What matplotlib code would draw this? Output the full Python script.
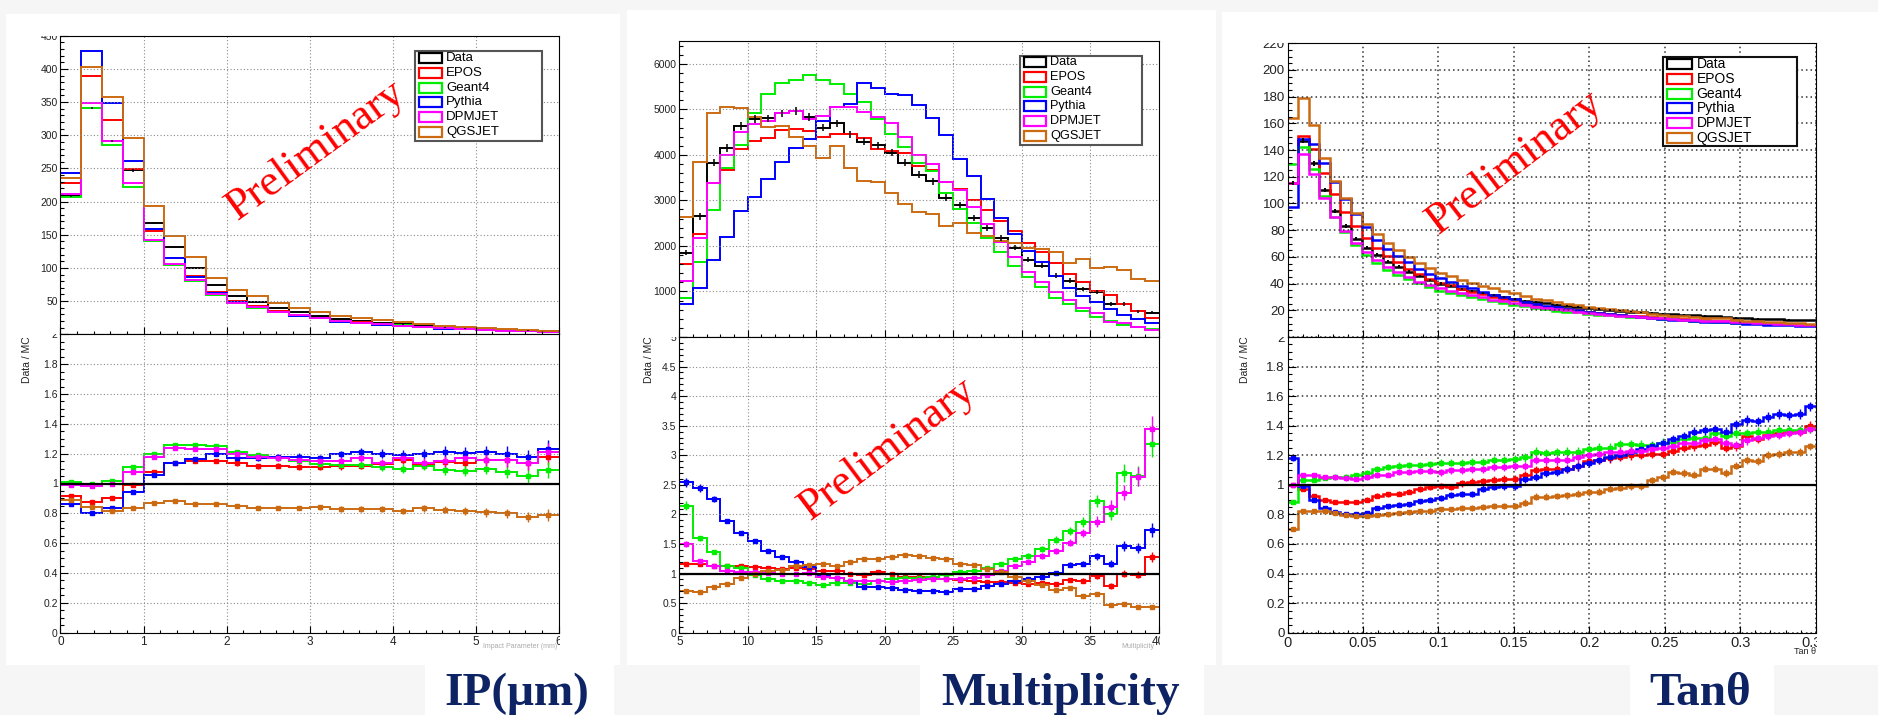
import numpy as np
import matplotlib.pyplot as plt
from matplotlib.patches import Rectangle
from matplotlib.ticker import MultipleLocator, FuncFormatter
from matplotlib.transforms import Affine2D, Bbox, TransformedBbox

plt.rcParams['font.family'] = ['Liberation Sans', 'DejaVu Sans']

W, H = 1878, 715

names = ['Data', 'EPOS', 'Geant4', 'Pythia', 'DPMJET', 'QGSJET']
colors = ['black', '#ff0000', '#00ee00', '#0000ff', '#ff00ff', '#cc6a12']

# impact parameter: 24 bins from 0 to 6
ip_edges = np.linspace(0, 6, 25)
ip_data = [209, 341, 291, 247, 168, 131, 100.5, 74, 57, 48, 39, 33, 28, 23, 20,
           17.5, 15, 13, 10.5, 9, 8, 6.5, 5.5, 4.5]
ip_err = [1.5, 2, 1.8, 1.7, 1.4, 1.2, 1.1, 0.9, 0.8, 0.7, 0.65, 0.6, 0.55, 0.5,
          0.45, 0.42, 0.4, 0.36, 0.33, 0.3, 0.28, 0.26, 0.24, 0.22]
ip_epos = [0.915, 0.875, 0.90, 0.99, 1.08, 1.14, 1.15, 1.15, 1.135, 1.115, 1.12, 1.11,
           1.11, 1.115, 1.12, 1.13, 1.16, 1.125, 1.145, 1.14, 1.16, 1.16, 1.14, 1.18]
ip_geant4 = [1.01, 1.00, 1.02, 1.11, 1.20, 1.26, 1.255, 1.25, 1.21, 1.19, 1.17, 1.15,
             1.13, 1.125, 1.125, 1.11, 1.10, 1.12, 1.09, 1.085, 1.10, 1.08, 1.05, 1.09]
ip_pythia = [0.86, 0.80, 0.835, 0.945, 1.06, 1.14, 1.165, 1.20, 1.17, 1.17, 1.18, 1.18,
             1.17, 1.195, 1.21, 1.20, 1.19, 1.20, 1.21, 1.205, 1.21, 1.20, 1.175, 1.23]
ip_dpmjet = [0.99, 0.98, 1.00, 1.08, 1.18, 1.235, 1.23, 1.23, 1.20, 1.18, 1.17, 1.16,
             1.15, 1.15, 1.17, 1.14, 1.17, 1.14, 1.15, 1.17, 1.16, 1.16, 1.14, 1.21]
ip_qgsjet = [0.89, 0.845, 0.815, 0.835, 0.87, 0.88, 0.86, 0.865, 0.85, 0.835, 0.835, 0.835,
             0.84, 0.83, 0.83, 0.83, 0.815, 0.833, 0.825, 0.815, 0.807, 0.80, 0.775, 0.79]

# multiplicity: 35 bins from 5 to 40
mu_edges = np.linspace(5, 40, 36)
mu_data = [1850, 2650, 3830, 4150, 4630, 4780, 4800, 4910, 4970, 4830, 4600, 4690,
           4450, 4290, 4210, 4050, 3830, 3560, 3420, 3060, 2900, 2620, 2400, 2170,
           1960, 1700, 1570, 1350, 1240, 1060, 980, 720, 720, 560, 530]
mu_err = [60, 70, 80, 80, 85, 85, 85, 85, 85, 85, 85, 85, 80, 80, 80, 80, 80, 75,
          75, 70, 70, 65, 65, 60, 60, 55, 55, 50, 50, 45, 45, 40, 40, 35, 35]
mu_epos = [1.16, 1.17, 1.13, 1.13, 1.12, 1.11, 1.10, 1.08, 1.09, 1.07, 1.05, 1.05,
           1.00, 0.98, 1.02, 0.99, 0.95, 0.95, 0.93, 0.90, 0.89, 0.87, 0.86, 0.85,
           0.84, 0.82, 0.84, 0.83, 0.89, 0.88, 0.96, 0.79, 1.00, 0.98, 1.28]
mu_geant4 = [2.15, 1.60, 1.37, 1.12, 1.10, 0.97, 0.90, 0.88, 0.88, 0.84, 0.815, 0.845,
             0.835, 0.83, 0.88, 0.91, 0.92, 0.93, 0.94, 0.97, 1.03, 1.05, 1.10, 1.16,
             1.25, 1.30, 1.42, 1.57, 1.72, 1.87, 2.22, 2.01, 2.70, 2.65, 3.19]
mu_pythia = [2.54, 2.45, 2.26, 1.89, 1.68, 1.55, 1.38, 1.28, 1.20, 1.11, 0.97, 0.93,
             0.87, 0.77, 0.77, 0.76, 0.72, 0.70, 0.71, 0.69, 0.74, 0.74, 0.79, 0.83,
             0.87, 0.90, 0.95, 1.01, 1.15, 1.17, 1.29, 1.17, 1.47, 1.43, 1.74]
mu_dpmjet = [1.50, 1.22, 1.13, 1.04, 1.03, 1.02, 1.01, 1.00, 1.00, 1.01, 0.95, 0.93,
             0.88, 0.87, 0.87, 0.86, 0.87, 0.89, 0.90, 0.90, 0.90, 0.92, 0.97, 1.04,
             1.12, 1.20, 1.30, 1.38, 1.52, 1.69, 1.88, 2.12, 2.37, 2.64, 3.44]
mu_qgsjet = [0.70, 0.69, 0.78, 0.82, 0.92, 0.99, 1.04, 1.06, 1.13, 1.15, 1.17, 1.12,
             1.20, 1.25, 1.24, 1.28, 1.31, 1.30, 1.27, 1.25, 1.16, 1.15, 1.08, 1.03,
             0.95, 0.87, 0.81, 0.72, 0.76, 0.62, 0.65, 0.47, 0.49, 0.44, 0.43]

# tan(theta): 50 bins from 0 to 0.35
tn_edges = np.linspace(0, 0.35, 51)
tn_data = [115, 147, 130, 110, 94.5, 83, 73.5, 66.7, 61.5, 56.5, 52.8, 49, 45.5, 42.5,
           40, 38, 36.2, 34.4, 32.7, 31.2, 29.8, 28.5, 27.3, 26.2, 25.2, 24.2, 23.3,
           22.5, 21.7, 21, 20.3, 19.7, 19.1, 18.6, 18.1, 17.6, 17.1, 16.6, 16.2, 15.8,
           15.4, 15, 14.6, 14.2, 13.8, 13.5, 13.2, 12.9, 12.6, 12.4]
tn_err = [1.5, 1.7, 1.6, 1.5, 1.4, 1.3, 1.2, 1.15, 1.1, 1.05, 1.0, 0.95, 0.9, 0.88,
          0.85, 0.82, 0.8, 0.78, 0.75, 0.72, 0.7, 0.68, 0.66, 0.64, 0.62, 0.6, 0.58,
          0.56, 0.54, 0.52, 0.5, 0.48, 0.46, 0.44, 0.42, 0.4, 0.39, 0.38, 0.37, 0.36,
          0.35, 0.34, 0.33, 0.32, 0.31, 0.3, 0.29, 0.28, 0.27, 0.26]
tn_epos = [1.00, 0.975, 0.925, 0.895, 0.885, 0.885, 0.885, 0.90, 0.925, 0.935, 0.94,
           0.955, 0.97, 0.985, 0.99, 0.985, 1.01, 1.02, 1.025, 1.035, 1.04, 1.04, 1.07,
           1.10, 1.105, 1.105, 1.11, 1.125, 1.16, 1.17, 1.18, 1.19, 1.20, 1.20, 1.21,
           1.21, 1.23, 1.25, 1.26, 1.27, 1.29, 1.25, 1.26, 1.33, 1.31, 1.34, 1.35,
           1.36, 1.36, 1.40]
tn_geant4 = [0.885, 1.035, 1.035, 1.045, 1.055, 1.055, 1.065, 1.08, 1.11, 1.12, 1.13,
             1.135, 1.135, 1.14, 1.15, 1.15, 1.15, 1.155, 1.155, 1.17, 1.17, 1.175,
             1.185, 1.225, 1.215, 1.22, 1.225, 1.225, 1.24, 1.25, 1.25, 1.275, 1.275,
             1.27, 1.27, 1.285, 1.29, 1.31, 1.32, 1.315, 1.35, 1.33, 1.35, 1.35, 1.36,
             1.36, 1.37, 1.37, 1.37, 1.38]
tn_pythia = [1.18, 0.99, 0.90, 0.845, 0.815, 0.805, 0.80, 0.81, 0.845, 0.855, 0.865,
             0.87, 0.89, 0.90, 0.91, 0.93, 0.94, 0.94, 0.975, 0.985, 0.99, 0.99, 1.04,
             1.055, 1.08, 1.09, 1.105, 1.125, 1.15, 1.17, 1.185, 1.20, 1.225, 1.24,
             1.26, 1.28, 1.31, 1.33, 1.36, 1.37, 1.375, 1.36, 1.41, 1.44, 1.43, 1.46,
             1.48, 1.47, 1.48, 1.53]
tn_dpmjet = [1.00, 1.07, 1.065, 1.055, 1.05, 1.045, 1.04, 1.05, 1.065, 1.07, 1.085,
             1.085, 1.095, 1.095, 1.085, 1.10, 1.10, 1.105, 1.105, 1.12, 1.12, 1.13,
             1.13, 1.17, 1.165, 1.165, 1.17, 1.185, 1.20, 1.21, 1.22, 1.225, 1.23, 1.23,
             1.24, 1.25, 1.26, 1.28, 1.28, 1.30, 1.31, 1.28, 1.27, 1.30, 1.32, 1.33,
             1.34, 1.35, 1.36, 1.38]
tn_qgsjet = [0.70, 0.82, 0.82, 0.82, 0.81, 0.795, 0.79, 0.79, 0.795, 0.80, 0.81, 0.815,
             0.82, 0.825, 0.835, 0.835, 0.845, 0.845, 0.85, 0.855, 0.86, 0.855, 0.88,
             0.92, 0.92, 0.925, 0.93, 0.94, 0.95, 0.955, 0.975, 0.98, 0.99, 0.99, 1.03,
             1.05, 1.09, 1.08, 1.07, 1.11, 1.11, 1.08, 1.13, 1.17, 1.16, 1.20, 1.21,
             1.22, 1.22, 1.26]

fig = plt.figure(figsize=(W / 100, H / 100), dpi=100, facecolor='#f6f6f7')
# pixel coordinates measured from the top-left corner
px = Affine2D().scale(1 / W, -1 / H).translate(0, 1) + fig.transFigure


def add_ax(x0, y0, x1, y1):
    return fig.add_axes([x0 / W, 1 - y1 / H, (x1 - x0) / W, (y1 - y0) / H])


def clip_box(x0, y0, x1, y1):
    return TransformedBbox(Bbox.from_extents(x0 / W, 1 - y1 / H, x1 / W, 1 - y0 / H),
                           fig.transFigure)


def panel(x0, x1, y0, ym, y1, edges, data, err, ratios, top_lim, top_step, top_minor,
          x_step, x_minor, r_lim, r_step, r_minor, ysize, xsize, lw, ms, grid_color, grid_lw):
    data = np.asarray(data, float)
    err = np.asarray(err, float)
    centers = (edges[:-1] + edges[1:]) / 2
    top = add_ax(x0, y0, x1, ym)
    bot = add_ax(x0, ym, x1, y1)

    # data first, MC histograms (data / ratio) on top, data errors last
    top.stairs(data, edges, baseline=None, color='black', lw=lw)
    for color, r in zip(colors[1:], ratios):
        top.stairs(data / np.asarray(r), edges, baseline=None, color=color, lw=lw)
    top.errorbar(centers, data, yerr=err, fmt='none', ecolor='black', elinewidth=lw * 0.8)

    bot.axhline(1, color='black', lw=1.6, zorder=2.5)
    for color, r in zip(colors[1:], ratios):
        r = np.asarray(r)
        bot.stairs(r, edges, baseline=None, color=color, lw=lw)
        bot.errorbar(centers, r, yerr=r * err / data, fmt='s', ms=ms, color=color,
                     elinewidth=1.0)

    for ax, ylim, ystep, yminor in ((top, top_lim, top_step, top_minor),
                                    (bot, r_lim, r_step, r_minor)):
        ax.set_xlim(edges[0], edges[-1])
        ax.set_ylim(*ylim)
        ax.xaxis.set_major_locator(MultipleLocator(x_step))
        ax.xaxis.set_minor_locator(MultipleLocator(x_minor))
        ax.yaxis.set_major_locator(MultipleLocator(ystep))
        ax.yaxis.set_minor_locator(MultipleLocator(yminor))
        ax.xaxis.set_major_formatter(FuncFormatter(lambda v, p: f'{v:g}'))
        ax.yaxis.set_major_formatter(FuncFormatter(lambda v, p: f'{v:g}'))
        ax.tick_params(which='both', direction='in', top=False, right=False, width=0.8,
                       labelcolor='#222222')
        ax.tick_params(axis='y', which='major', length=6, labelsize=ysize, pad=2)
        ax.tick_params(axis='y', which='minor', length=3)
        ax.tick_params(axis='x', which='major', length=4.8, labelsize=xsize, pad=2.5)
        ax.tick_params(axis='x', which='minor', length=2.4)
        ax.grid(True, which='major', ls=(0, (1, 2)), color=grid_color, lw=grid_lw)
        for s in ax.spines.values():
            s.set_linewidth(0.8)
    top.tick_params(labelbottom=False)
    top.yaxis.set_major_formatter(FuncFormatter(lambda v, p: '' if v == 0 else f'{v:g}'))

    # labels at the pad edges are cut, as in the ROOT canvas
    for t in top.yaxis.get_major_ticks():
        t.label1.set_clip_box(clip_box(0, y0, x1, ym))
    for t in bot.yaxis.get_major_ticks():
        t.label1.set_clip_box(clip_box(0, ym, x1, H))
    for t in bot.xaxis.get_major_ticks():
        t.label1.set_clip_box(clip_box(0, ym, x1 + 1, H))
    return top, bot


def legend(x0, y0, x1, y1, hx0, hx1, tx, row0, fs, edge):
    fig.patches.append(Rectangle((x0, y0), x1 - x0, y1 - y0, transform=px, facecolor='white',
                                 edgecolor=edge, lw=1.5, zorder=3))
    for i, (n, c) in enumerate(zip(names, colors)):
        yc = row0 + i * 14.7
        fig.patches.append(Rectangle((hx0, yc - 5), hx1 - hx0, 10, transform=px,
                                     facecolor='none', edgecolor=c, lw=1.6, zorder=4))
        fig.text(tx, yc, n, transform=px, ha='left', va='center', fontsize=fs, zorder=5)


# white canvases and caption boxes
for x0, y0, x1, y1 in [(6, 14, 620, 665), (627, 10, 1216, 665), (1222, 12, 1878, 665),
                       (425, 665, 614, 715), (920, 665, 1204, 715), (1630, 665, 1774, 715)]:
    fig.patches.append(Rectangle((x0, y0), x1 - x0, y1 - y0, transform=px,
                                 facecolor='white', edgecolor='none', zorder=-1))

panel(60.5, 558.7, 35.7, 334.3, 632.7, ip_edges, ip_data, ip_err,
      [ip_epos, ip_geant4, ip_pythia, ip_dpmjet, ip_qgsjet],
      (0, 450), 50, 10, 1, 0.2, (0, 2), 0.2, 0.05, 7.5, 8.5, 1.4, 2.5, '#8a8a8a', 0.8)
panel(679.3, 1158.5, 41, 337, 632.7, mu_edges, mu_data, mu_err,
      [mu_epos, mu_geant4, mu_pythia, mu_dpmjet, mu_qgsjet],
      (0, 6500), 1000, 200, 5, 1, (0, 5), 0.5, 0.1, 7.5, 8.5, 1.4, 2.5, '#8a8a8a', 0.8)
panel(1287.6, 1815.7, 43.3, 337, 632.7, tn_edges, tn_data, tn_err,
      [tn_epos, tn_geant4, tn_pythia, tn_dpmjet, tn_qgsjet],
      (0, 220), 20, 5, 0.05, 0.01, (0, 2), 0.2, 0.05, 9.5, 10.5, 1.8, 3.5, '#333333', 1.1)

legend(415, 51, 541.5, 140.7, 419, 442, 446, 58.3, 9.5, '#555555')
legend(1020, 56, 1142, 145, 1024, 1046, 1050, 62.3, 9.2, '#555555')
legend(1663, 57, 1797, 146, 1667, 1692, 1696.5, 64.3, 10, '#111111')

for x, y, ang in [(316, 150, 36), (887, 449, 37), (1515, 162, 37.5)]:
    fig.text(x, y, 'Preliminary', transform=px, rotation=ang, rotation_mode='anchor',
             ha='center', va='center', color='red', fontsize=32,
             family='Liberation Serif', zorder=6)

for x in (27.5, 649, 1244.5):
    fig.text(x, 336, 'Data / MC', transform=px, rotation=90, ha='center', va='top',
             fontsize=7.5, color='#222222')

fig.text(557, 647, 'Impact Parameter (mm)', transform=px, ha='right', va='center',
         fontsize=5, color='#aaaaaa')
fig.text(1154, 647, 'Multiplicity', transform=px, ha='right', va='center',
         fontsize=5, color='#aaaaaa')
fig.text(1816, 651, 'Tan θ', transform=px, ha='right', va='center',
         fontsize=6.5, color='#222222')

for x, s in [(516.5, 'IP(μm)'), (1060.5, 'Multiplicity'), (1700, 'Tanθ')]:
    fig.text(x, 705, s, transform=px, ha='center', va='baseline', fontsize=34,
             fontweight='bold', family='Liberation Serif', color='#0d2364')

fig.savefig('out.png', dpi=100, facecolor=fig.get_facecolor())
